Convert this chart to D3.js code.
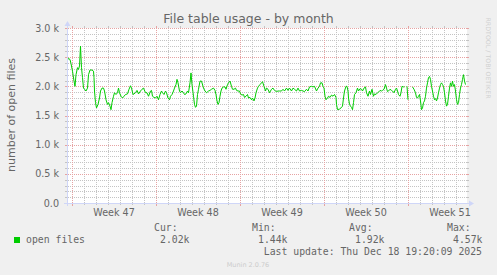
<!DOCTYPE html>
<html><head><meta charset="utf-8">
<script src="https://cdn.jsdelivr.net/npm/d3@7/dist/d3.min.js"></script>
<style>body{margin:0;background:#f0f0f0}svg{display:block}</style>
</head><body>
<svg id="chart" width="497" height="275"></svg>
<script>
// ---- data ----
const title = "File table usage - by month";
const yLabel = "number of open files";
const startTime = Date.UTC(2025, 10, 16, 14);   // left edge of the graph
const endTime = Date.UTC(2025, 11, 19, 22);     // right edge of the graph
const sampleHours = [0,1,3,6,8,11,14,16,18,21,23,25,27,29,31,33,35,38,41,43,46,50,53,54,55,57,59,62,65,67,70,73,75,78,81,83,86,88,90,93,95,98,101,103,105,108,111,114,117,121,124,127,129,132,137,140,143,147,150,153,157,160,163,167,169,171,174,177,180,183,186,189,191,194,197,199,202,205,207,210,213,215,218,220,222,225,227,230,233,235,238,241,243,246,248,250,253,255,257,259,261,263,266,269,273,276,279,283,286,289,293,296,298,300,302,304,306,308,310,313,316,318,321,323,326,329,331,334,337,339,342,345,347,350,353,355,358,361,363,366,369,371,374,376,378,381,383,386,389,391,394,397,399,402,405,409,412,415,419,422,425,429,432,435,439,442,445,449,452,455,459,462,465,469,472,475,479,482,485,489,492,495,499,502,505,507,510,512,514,516,518,521,523,526,529,532,535,538,539,541,545,548,551,553,555,558,560,562,563,565,567,569,571,573,575,578,581,583,586,589,591,594,597,599,602,605,607,610,613,615,618,621,623,626,629,631,634,637,639,641,643,646,649,651,654,657,659,661,663,666,668,670,673,675,677,680,682,686,691,694,697,699,701,703,705,707,709,711,713,715,717,719,721,723,725,727,729,731,733,735,737,739,741,743,745,747,749,751,753,755,757,759,761,763,765,767,769,771,773,775,777,779,781,783,785,787,789,791,793,794,795,797];
const openFiles = [2020,2450,2480,2460,2390,2260,2090,2000,2200,2320,2290,2350,2690,2320,2150,1970,1950,1920,1970,2200,2280,2280,2260,2150,1920,1720,1630,1690,1800,1920,1970,1970,1920,1770,1690,1720,1660,1600,1720,1830,1890,1860,1890,1970,1890,1830,1800,1830,1860,1870,1950,2010,1970,1860,1890,1930,1870,1920,1950,1970,1890,1890,1830,1920,1930,1830,1810,1800,1830,1770,1860,1920,1890,1860,1920,1890,1800,1770,1830,1860,1920,1970,2030,2120,2060,1920,1890,1920,1890,1860,1870,1920,1890,2060,2230,2030,1830,1690,1640,1660,1860,1950,2090,2090,1970,1920,1890,1920,1930,1950,1970,1930,1860,1750,1690,1720,1830,1920,1970,1990,1990,1950,2030,2060,2090,2000,1950,1950,1970,1930,1920,1920,1870,1850,1860,1810,1830,1860,1800,1810,1770,1800,1750,1800,1890,1970,2000,2030,2060,2080,2000,1920,1970,1950,1890,1950,1970,1930,1910,1920,1920,1920,1950,1920,1970,1930,1970,1920,1970,1950,1920,1970,1920,1930,1920,1910,1950,1920,1990,2000,1990,2000,1920,1970,2000,2060,2060,2000,1970,1830,1770,1800,1830,1810,1850,1830,1860,1810,1690,1600,1610,1630,1660,1800,1920,2000,2000,1920,1800,1690,1660,1640,1600,1720,1860,1890,1970,1920,1960,1950,1920,1970,1990,1890,1830,1920,1860,1950,1830,1870,1860,1890,1900,1930,1920,1930,1950,2030,1970,1910,1920,1950,1930,1920,1890,1950,1970,1920,1860,1830,1890,2000,1990,1990,null,2000,1770,null,1990,1950,1890,1810,1800,1830,1860,1750,1600,1630,1720,1750,1830,1970,2060,2150,2170,2120,2000,1920,1830,1770,1790,1750,1800,1890,1970,2030,2060,2030,2000,1890,1750,1660,1690,1830,1970,2060,2000,2090,2000,2030,1920,1770,1690,1720,1860,1970,2030,2120,2200,2150,2090,2030];
const yMax = 3000;
const yMajorTicks = [0, 500, 1000, 1500, 2000, 2500, 3000];
const yMinorStep = 100;
const seriesName = "open files";
const statLabels = ["Cur:", "Min:", "Avg:", "Max:"];
const statValues = ["2.02k", "1.44k", "1.92k", "4.57k"];
const lastUpdate = "Last update: Thu Dec 18 19:20:09 2025";
const credit = "RRDTOOL / TOBI OETIKER";
const version = "Munin 2.0.76";

// ---- layout ----
const W = 497, H = 275;
const plot = {left: 67, right: 467, top: 28, bottom: 203};
const colors = {bg: "#f0f0f0", canvas: "#ffffff", font: "#666666", axis: "#cfd6f8",
  grid: "#c4c4c4", mgrid: "#e6a3a3", line: "#00cc00"};
const sans = "'DejaVu Sans', sans-serif";
const mono = "'DejaVu Sans Mono', monospace";

const svg = d3.select("#chart");
const defs = svg.append("defs");
function dotPattern(id, c, horiz) {
  const p = defs.append("pattern").attr("id", id).attr("patternUnits", "userSpaceOnUse")
    .attr("x", 0).attr("y", 0).attr("width", horiz ? 2 : 1).attr("height", horiz ? 1 : 2);
  p.append("rect").attr("width", 1).attr("height", 1).attr("fill", c);
}
dotPattern("hMinor", colors.grid, true);
dotPattern("vMinor", colors.grid, false);
dotPattern("hMajor", colors.mgrid, true);
dotPattern("vMajor", colors.mgrid, false);

svg.append("rect").attr("width", W).attr("height", H).attr("fill", colors.bg);
svg.append("rect").attr("x", plot.left).attr("y", plot.top)
  .attr("width", plot.right - plot.left).attr("height", plot.bottom - plot.top)
  .attr("fill", colors.canvas);

const x = d3.scaleUtc().domain([new Date(startTime), new Date(endTime)]).range([plot.left, plot.right]);
const y = d3.scaleLinear().domain([0, yMax]).range([plot.bottom, plot.top]);

const grid = svg.append("g").attr("shape-rendering", "crispEdges");
function hLine(v, c, pat) {
  const yy = Math.round(y(v));
  grid.append("rect").attr("x", plot.left).attr("y", yy).attr("width", plot.right - plot.left).attr("height", 1)
    .attr("fill", `url(#${pat})`);
  grid.append("rect").attr("x", plot.left - 2).attr("y", yy).attr("width", 2).attr("height", 1).attr("fill", c);
  grid.append("rect").attr("x", plot.right).attr("y", yy).attr("width", 2).attr("height", 1).attr("fill", c);
}
function vLine(d, c, pat, below) {
  const xx = Math.round(x(d));
  grid.append("rect").attr("x", xx).attr("y", plot.top).attr("width", 1).attr("height", plot.bottom - plot.top)
    .attr("fill", `url(#${pat})`);
  grid.append("rect").attr("x", xx).attr("y", plot.bottom).attr("width", 1).attr("height", below).attr("fill", c);
  grid.append("rect").attr("x", xx).attr("y", plot.top - 2).attr("width", 1).attr("height", 2).attr("fill", c);
}
// minor grid
d3.range(0, yMax + 1, yMinorStep).filter(v => !yMajorTicks.includes(v))
  .forEach(v => hLine(v, colors.grid, "hMinor"));
const days = d3.utcDay.range(new Date(startTime), new Date(endTime)).filter(d => d.getUTCDay() !== 1);
days.forEach(d => vLine(d, colors.grid, "vMinor", 2));
// major grid
yMajorTicks.forEach(v => hLine(v, colors.mgrid, "hMajor"));
const weeks = d3.utcMonday.range(new Date(startTime), new Date(endTime));
weeks.forEach(d => vLine(d, colors.mgrid, "vMajor", 3));

// y tick labels
const fmtY = v => v === 0 ? "0.0" : (v / 1000).toFixed(1) + " k";
svg.append("g").selectAll("text").data(yMajorTicks).join("text")
  .attr("x", plot.left - 8).attr("y", d => y(d) + 3.5)
  .attr("text-anchor", "end").attr("font-family", sans).attr("font-size", 9.6)
  .attr("fill", colors.font).text(fmtY);

// x week labels (centred in the week)
const fmtWeek = d3.utcFormat("%V");
svg.append("g").selectAll("text").data(weeks).join("text")
  .attr("x", d => x(d3.utcHour.offset(d, 84)))
  .attr("y", 216).attr("text-anchor", "middle").attr("font-family", sans).attr("font-size", 9.6)
  .attr("fill", colors.font).text(d => "Week " + fmtWeek(d));

// data line
const data = sampleHours.map((h, i) => ({t: new Date(startTime + h * 3600e3), v: openFiles[i]}));
defs.append("clipPath").attr("id", "clip").append("rect")
  .attr("x", plot.left).attr("y", plot.top).attr("width", plot.right - plot.left).attr("height", plot.bottom - plot.top);
const line = d3.line().defined(d => d.v !== null).x(d => x(d.t)).y(d => y(d.v));
svg.append("path").datum(data).attr("d", line).attr("fill", "none")
  .attr("stroke", colors.line).attr("stroke-width", 1).attr("clip-path", "url(#clip)");

// axes + arrows
const ax = svg.append("g").attr("shape-rendering", "crispEdges");
ax.append("line").attr("x1", plot.left - 3).attr("x2", plot.right + 4).attr("y1", plot.bottom + 0.5).attr("y2", plot.bottom + 0.5).attr("stroke", colors.axis);
ax.append("line").attr("x1", plot.left + 0.5).attr("x2", plot.left + 0.5).attr("y1", plot.bottom + 3).attr("y2", plot.top - 4).attr("stroke", colors.axis);
svg.append("path").attr("d", `M${plot.right + 2},${plot.bottom - 2.5}L${plot.right + 7},${plot.bottom + 0.5}L${plot.right + 2},${plot.bottom + 3.5}Z`).attr("fill", colors.axis);
svg.append("path").attr("d", `M${plot.left - 2.5},${plot.top - 2}L${plot.left + 0.5},${plot.top - 7}L${plot.left + 3.5},${plot.top - 2}Z`).attr("fill", colors.axis);

// title
svg.append("text").attr("x", 248.5).attr("y", 23).attr("text-anchor", "middle")
  .attr("font-family", sans).attr("font-size", 12.5).attr("fill", colors.font).text(title);
// y label
svg.append("text").attr("transform", `translate(15,115) rotate(-90)`).attr("text-anchor", "middle")
  .attr("font-family", sans).attr("font-size", 11).attr("fill", colors.font).text(yLabel);
// credit
svg.append("text").attr("transform", `translate(486,58) rotate(90)`).attr("text-anchor", "middle")
  .attr("font-family", sans).attr("font-size", 6.3).attr("fill", "#d0d0d0").text(credit);

// legend
svg.append("rect").attr("x", 14).attr("y", 237).attr("width", 6).attr("height", 6).attr("fill", colors.line);
svg.append("text").attr("x", 26).attr("y", 243).attr("font-family", mono).attr("font-size", 9.8)
  .attr("fill", colors.font).text(seriesName);
const statX = [154, 252, 349, 447];
statLabels.forEach((s, i) => {
  svg.append("text").attr("x", statX[i]).attr("y", 231).attr("font-family", mono).attr("font-size", 9.8)
    .attr("fill", colors.font).text(s);
  svg.append("text").attr("x", statX[i] + 6).attr("y", 243).attr("font-family", mono).attr("font-size", 9.8)
    .attr("fill", colors.font).text(statValues[i]);
});
svg.append("text").attr("x", 482).attr("y", 255).attr("text-anchor", "end").attr("font-family", mono)
  .attr("font-size", 9.8).attr("fill", colors.font).text(lastUpdate);
svg.append("text").attr("x", 248).attr("y", 267).attr("text-anchor", "middle").attr("font-family", sans)
  .attr("font-size", 6.5).attr("fill", "#cccccc").text(version);
</script>
</body></html>
